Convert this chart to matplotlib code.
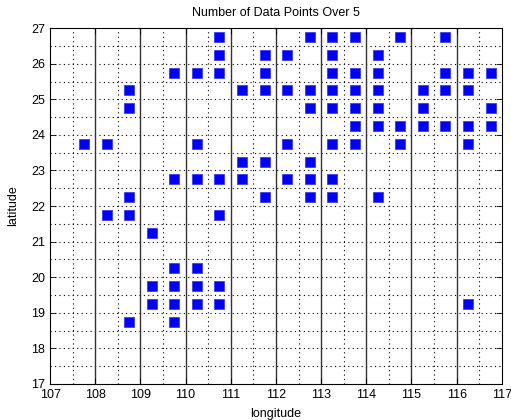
import numpy as np
import matplotlib
matplotlib.use('Agg')
import matplotlib.pyplot as plt

plt.rcParams['font.family'] = ['Liberation Sans', 'DejaVu Sans']

## Cell centres (lon, lat) with more than 5 data points, grouped by latitude row
row_lats = [26.75, 26.25, 25.75, 25.25, 24.75, 24.25, 23.75, 23.25,
            22.75, 22.25, 21.75, 21.25, 20.25, 19.75, 19.25, 18.75]
row_lons = [
    [110.75, 112.75, 113.25, 113.75, 114.75, 115.75],
    [110.75, 111.75, 112.25, 113.25, 114.25],
    [109.75, 110.25, 110.75, 111.75, 113.25, 113.75, 114.25, 115.75, 116.25, 116.75],
    [108.75, 111.25, 111.75, 112.25, 112.75, 113.25, 113.75, 114.25, 115.25, 115.75, 116.25],
    [108.75, 112.75, 113.25, 113.75, 114.25, 115.25, 116.75],
    [113.75, 114.25, 114.75, 115.25, 115.75, 116.25, 116.75],
    [107.75, 108.25, 110.25, 112.25, 113.25, 113.75, 114.75, 116.25],
    [111.25, 111.75, 112.75],
    [109.75, 110.25, 110.75, 111.25, 112.25, 112.75, 113.25],
    [108.75, 111.75, 112.75, 113.25, 114.25],
    [108.25, 108.75, 110.75],
    [109.25],
    [109.75, 110.25],
    [109.25, 109.75, 110.25, 110.75],
    [109.25, 109.75, 110.25, 110.75, 116.25],
    [108.75, 109.75],
]

lon = np.concatenate([np.array(r) for r in row_lons])
lat = np.concatenate([np.full(len(r), y) for r, y in zip(row_lons, row_lats)])

x_ticks = np.arange(107, 118)
y_ticks = np.arange(17, 28)

fig = plt.figure(figsize=(5.11, 4.2), dpi=100)
ax = fig.add_axes([0.098, 0.086, 0.884, 0.847])

# dotted grid every half degree
for v in np.arange(107.5, 117, 1.0):
    ax.axvline(v, color='black', linestyle=(0, (1, 3)), linewidth=0.8, zorder=1)
for v in np.arange(17.5, 27, 0.5):
    ax.axhline(v, color='black', linestyle=(0, (1, 3)), linewidth=0.8, zorder=1)
# solid lines at whole degrees of longitude
for v in x_ticks[1:-1]:
    ax.axvline(v, color='#333333', linestyle='-', linewidth=1.0, zorder=1)

ax.plot(lon, lat, linestyle='none', marker='s', markersize=7.2,
        markerfacecolor='#0000ff', markeredgecolor='#3b3bff',
        markeredgewidth=0.6, zorder=3)

ax.set_xlim(107, 117)
ax.set_ylim(17, 27)
ax.set_xticks(x_ticks)
ax.set_yticks(y_ticks)
ax.tick_params(direction='in', length=4, width=0.6, labelsize=9,
               top=True, right=True)
for s in ax.spines.values():
    s.set_linewidth(0.8)

ax.set_title('Number of Data Points Over 5', fontsize=9, pad=9)
ax.set_xlabel('longitude', fontsize=9, labelpad=5)
ax.set_ylabel('latitude', fontsize=9, labelpad=9)

fig.savefig('out.png', dpi=100)
